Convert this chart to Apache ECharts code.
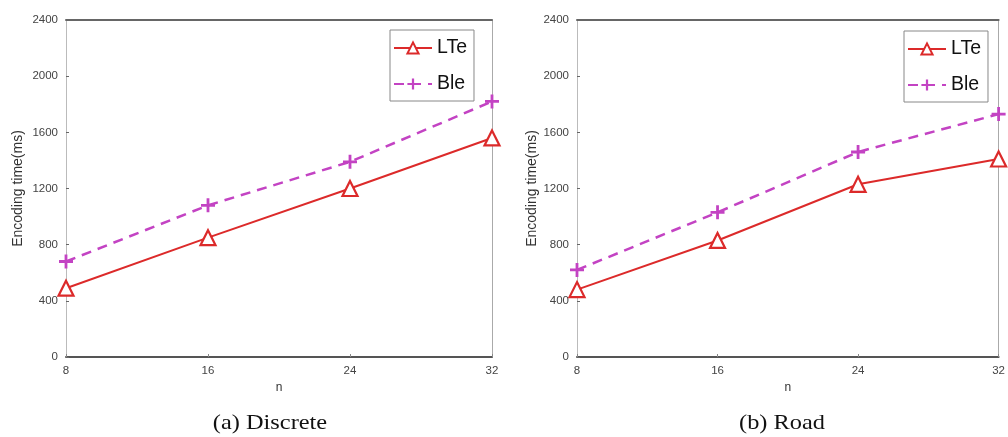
<!DOCTYPE html>
<html><head><meta charset="utf-8">
<script src="https://cdn.jsdelivr.net/npm/echarts@6/dist/echarts.min.js"></script>
<style>html,body{margin:0;padding:0;background:#fff}#c{width:1008px;height:437px}</style>
</head><body><div id="c"></div>
<script>
const nValues = [8, 16, 24, 32];
const yTicks = [0, 400, 800, 1200, 1600, 2000, 2400];
const discreteLTe = [490, 850, 1200, 1560];
const discreteBle = [680, 1080, 1390, 1820];
const roadLTe = [480, 830, 1230, 1410];
const roadBle = [620, 1030, 1460, 1730];
const seriesNames = ['LTe', 'Ble'];
const captions = ['(a) Discrete', '(b) Road'];

const RED = '#dc2a2a', MAG = '#c343c3';
const PLUS = 'path://M4,0 H6 V4 H10 V6 H6 V10 H4 V6 H0 V4 H4 Z';
const chart = echarts.init(document.getElementById('c'));
const pairs = v => nValues.map((n, i) => [n, v[i]]);

const grids = [
  {left: 66, top: 20, width: 426, height: 337},
  {left: 577, top: 20, width: 428, height: 337}
];
function xAx(g) {
  return [{
    type: 'value', gridIndex: g, min: 8, max: 32, interval: 8,
    name: 'n', nameLocation: 'middle', nameGap: 25,
    nameTextStyle: {color: '#333', fontSize: 12, fontFamily: 'Liberation Sans'},
    axisLine: {onZero: false, lineStyle: {color: '#555', width: 2}},
    axisTick: {inside: true, length: 3, lineStyle: {color: '#888'}},
    axisLabel: {color: '#444', fontSize: 11.5, fontFamily: 'Liberation Sans', margin: 8},
    splitLine: {show: false}
  }, {
    type: 'value', gridIndex: g, position: 'top', min: 8, max: 32, interval: 8,
    axisLine: {show: true, onZero: false, lineStyle: {color: '#666', width: 2}},
    axisTick: {show: false}, axisLabel: {show: false}, splitLine: {show: false}
  }];
}
function yAx(g) {
  return [{
    type: 'value', gridIndex: g, min: 0, max: 2400, interval: 400,
    name: 'Encoding time(ms)', nameLocation: 'middle', nameGap: g === 0 ? 41 : 35, nameRotate: 90,
    nameTextStyle: {color: '#333', fontSize: 14, fontFamily: 'Liberation Sans'},
    axisLine: {show: true, onZero: false, lineStyle: {color: '#bbb', width: 1}},
    axisTick: {show: true, inside: true, length: 3, lineStyle: {color: '#666'}},
    axisLabel: {color: '#444', fontSize: 11.5, fontFamily: 'Liberation Sans', margin: 8,
      formatter: v => yTicks.includes(v) ? String(v) : ''},
    splitLine: {show: false}
  }, {
    type: 'value', gridIndex: g, position: 'right', min: 0, max: 2400, interval: 400,
    axisLine: {show: true, onZero: false, lineStyle: {color: '#aaa', width: 1}},
    axisTick: {show: false}, axisLabel: {show: false}, splitLine: {show: false}
  }];
}
function lte(data, g) {
  return {
    name: seriesNames[0], type: 'line', xAxisIndex: g * 2, yAxisIndex: g * 2, data: pairs(data),
    symbol: 'triangle', symbolSize: 15, showAllSymbol: true,
    lineStyle: {color: RED, width: 2},
    itemStyle: {color: '#fff', borderColor: RED, borderWidth: 2.2},
    emphasis: {disabled: true}, animation: false, z: 3
  };
}
function ble(data, g) {
  return {
    name: seriesNames[1], type: 'line', xAxisIndex: g * 2, yAxisIndex: g * 2, data: pairs(data),
    symbol: PLUS, symbolSize: 14, showAllSymbol: true,
    lineStyle: {color: MAG, width: 2.5, type: [10, 7]},
    itemStyle: {color: MAG, borderWidth: 0},
    emphasis: {disabled: true}, animation: false, z: 2
  };
}
const legendBase = {
  orient: 'vertical', itemWidth: 38, itemHeight: 14, itemGap: 16,
  borderColor: '#888', borderWidth: 1, padding: [8, 7, 7, 3],
  textStyle: {color: '#111', fontSize: 19.5, fontFamily: 'Liberation Sans'},
  data: seriesNames, selectedMode: false
};
const capStyle = {font: '21px "Liberation Serif"', fill: '#111', align: 'center', verticalAlign: 'bottom'};
chart.setOption({
  backgroundColor: '#fff',
  animation: false,
  graphic: [
    {type: 'text', x: 270, y: 434, scaleX: 1.16, style: Object.assign({text: captions[0]}, capStyle)},
    {type: 'text', x: 782, y: 434, scaleX: 1.16, style: Object.assign({text: captions[1]}, capStyle)}
  ],
  legend: [
    Object.assign({}, legendBase, {left: 390, top: 30}),
    Object.assign({}, legendBase, {left: 904, top: 31})
  ],
  grid: grids,
  xAxis: [...xAx(0), ...xAx(1)],
  yAxis: [...yAx(0), ...yAx(1)],
  series: [
    lte(discreteLTe, 0), ble(discreteBle, 0),
    Object.assign(lte(roadLTe, 1), {xAxisIndex: 2, yAxisIndex: 2}),
    Object.assign(ble(roadBle, 1), {xAxisIndex: 2, yAxisIndex: 2})
  ]
});
</script></body></html>
